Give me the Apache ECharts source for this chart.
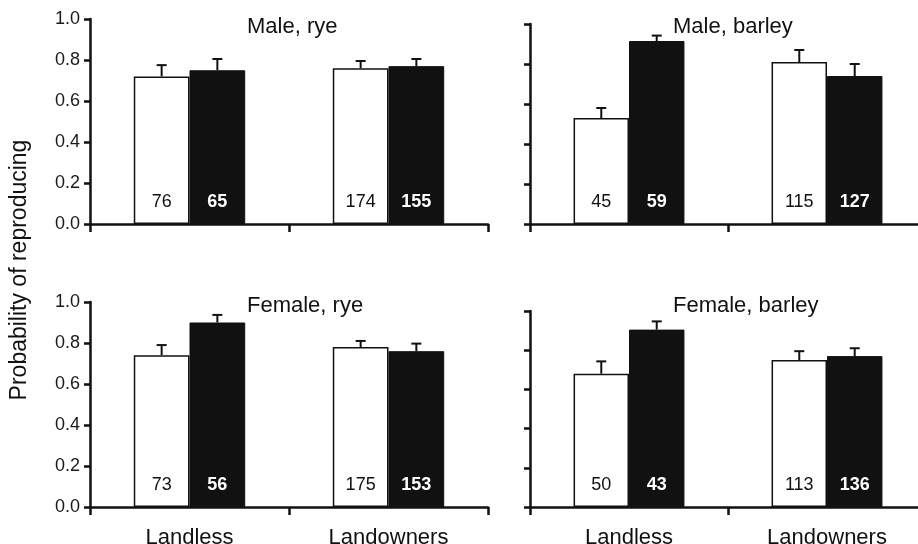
<!DOCTYPE html>
<html><head><meta charset="utf-8">
<script src="https://cdn.jsdelivr.net/npm/echarts@6/dist/echarts.min.js"></script>
<style>html,body{margin:0;padding:0;background:#fff}#c{width:918px;height:544px}</style>
</head><body><div id="c"></div>
<script>
const categories = ['Landless', 'Landowners'];
const panelTitles = ['Male, rye', 'Male, barley', 'Female, rye', 'Female, barley'];
const yTicks = ['0.0', '0.2', '0.4', '0.6', '0.8', '1.0'];
const yAxisTitle = 'Probability of reproducing';

// open bars (white) and filled bars (black): means, upper standard errors, sample sizes
const maleRyeOpen = [0.72, 0.76];
const maleRyeOpenSE = [0.055, 0.035];
const maleRyeOpenN = [76, 174];
const maleRyeFilled = [0.75, 0.77];
const maleRyeFilledSE = [0.055, 0.035];
const maleRyeFilledN = [65, 155];

const maleBarleyOpen = [0.53, 0.81];
const maleBarleyOpenSE = [0.05, 0.06];
const maleBarleyOpenN = [45, 115];
const maleBarleyFilled = [0.915, 0.74];
const maleBarleyFilledSE = [0.027, 0.06];
const maleBarleyFilledN = [59, 127];

const femaleRyeOpen = [0.74, 0.78];
const femaleRyeOpenSE = [0.05, 0.03];
const femaleRyeOpenN = [73, 175];
const femaleRyeFilled = [0.90, 0.76];
const femaleRyeFilledSE = [0.037, 0.037];
const femaleRyeFilledN = [56, 153];

const femaleBarleyOpen = [0.68, 0.75];
const femaleBarleyOpenSE = [0.063, 0.045];
const femaleBarleyOpenN = [50, 113];
const femaleBarleyFilled = [0.905, 0.77];
const femaleBarleyFilledSE = [0.042, 0.04];
const femaleBarleyFilledN = [43, 136];

const panels = [
  {open: maleRyeOpen, openSE: maleRyeOpenSE, openN: maleRyeOpenN, filled: maleRyeFilled, filledSE: maleRyeFilledSE, filledN: maleRyeFilledN},
  {open: maleBarleyOpen, openSE: maleBarleyOpenSE, openN: maleBarleyOpenN, filled: maleBarleyFilled, filledSE: maleBarleyFilledSE, filledN: maleBarleyFilledN},
  {open: femaleRyeOpen, openSE: femaleRyeOpenSE, openN: femaleRyeOpenN, filled: femaleRyeFilled, filledSE: femaleRyeFilledSE, filledN: femaleRyeFilledN},
  {open: femaleBarleyOpen, openSE: femaleBarleyOpenSE, openN: femaleBarleyOpenN, filled: femaleBarleyFilled, filledSE: femaleBarleyFilledSE, filledN: femaleBarleyFilledN}
];

const FONT = '"Liberation Sans", Arial, Helvetica, sans-serif';
const grids = [
  {left: 90, top: 19, width: 398, height: 205},
  {left: 530, top: 24, width: 396, height: 200},
  {left: 90, top: 302, width: 398, height: 205},
  {left: 530, top: 311, width: 396, height: 196}
].map(g => Object.assign(g, {containLabel: false, outerBoundsMode: 'none'}));
const titlePos = [
  {left: 242, top: 11}, {left: 668, top: 11}, {left: 242, top: 290}, {left: 668, top: 290}
];
const BAR_FRAC = 0.28;

function errRender(sign) {
  return function (params, api) {
    const idx = api.value(0);
    const p0 = api.coord([idx, api.value(1)]);
    const p1 = api.coord([idx, api.value(2)]);
    const band = api.size([1, 0])[0];
    const x = p0[0] + sign * band * BAR_FRAC / 2;
    return {
      type: 'group',
      children: [
        {type: 'line', shape: {x1: x, y1: p0[1], x2: x, y2: p1[1]}, style: {stroke: '#111', lineWidth: 2}},
        {type: 'line', shape: {x1: x - 5, y1: p1[1], x2: x + 5, y2: p1[1]}, style: {stroke: '#111', lineWidth: 2}}
      ]
    };
  };
}

const xAxes = [], yAxes = [], series = [], titles = [];
panels.forEach((p, i) => {
  const bottom = i >= 2;
  const left = i % 2 === 0;
  titles.push({text: panelTitles[i], left: titlePos[i].left, top: titlePos[i].top,
    textStyle: {fontFamily: FONT, fontSize: 22, fontWeight: 'normal', color: '#111'}});
  xAxes.push({
    type: 'category', gridIndex: i, data: categories, boundaryGap: true,
    axisLine: {lineStyle: {color: '#111', width: 2.5}},
    axisTick: {show: true, length: 8, lineStyle: {color: '#111', width: 2.5}},
    axisLabel: {show: bottom, margin: 20, fontFamily: FONT, fontSize: 22, color: '#111'}
  });
  yAxes.push({
    type: 'value', gridIndex: i, min: 0, max: 1, interval: 0.2,
    splitLine: {show: false},
    axisLine: {show: true, lineStyle: {color: '#111', width: 2.5}},
    axisTick: {show: true, length: 6, lineStyle: {color: '#111', width: 2.5}},
    axisLabel: {show: left, margin: 10, fontFamily: FONT, fontSize: 18, color: '#1a1a1a',
      formatter: (v) => yTicks[Math.round(v * 5)]}
  });
  series.push({
    type: 'bar', xAxisIndex: i, yAxisIndex: i, data: p.open, barWidth: (BAR_FRAC * 100) + '%', barGap: '0%',
    itemStyle: {color: '#fff', borderColor: '#111', borderWidth: 1.5},
    label: {show: true, position: 'insideBottom', distance: 13, fontFamily: FONT, fontSize: 18, color: '#111',
      formatter: (d) => String(p.openN[d.dataIndex])},
    silent: true, animation: false
  });
  series.push({
    type: 'bar', xAxisIndex: i, yAxisIndex: i, data: p.filled, barWidth: (BAR_FRAC * 100) + '%', barGap: '0%',
    itemStyle: {color: '#111', borderColor: '#111', borderWidth: 1},
    label: {show: true, position: 'insideBottom', distance: 13, fontFamily: FONT, fontSize: 18, fontWeight: 'bold', color: '#fff',
      formatter: (d) => String(p.filledN[d.dataIndex])},
    silent: true, animation: false
  });
  series.push({
    type: 'custom', xAxisIndex: i, yAxisIndex: i, renderItem: errRender(-1), z: 3,
    data: p.open.map((v, k) => [k, v, v + p.openSE[k]]), encode: {x: 0, y: [1, 2]}, animation: false
  });
  series.push({
    type: 'custom', xAxisIndex: i, yAxisIndex: i, renderItem: errRender(1), z: 3,
    data: p.filled.map((v, k) => [k, v, v + p.filledSE[k]]), encode: {x: 0, y: [1, 2]}, animation: false
  });
});

const chart = echarts.init(document.getElementById('c'), null, {renderer: 'canvas'});
chart.setOption({
  backgroundColor: '#fff',
  animation: false,
  title: titles,
  grid: grids,
  xAxis: xAxes,
  yAxis: yAxes,
  series: series,
  graphic: [{
    type: 'text', x: 20, y: 270, rotation: Math.PI / 2,
    style: {text: yAxisTitle, fontFamily: FONT, fontSize: 23, fill: '#111', textAlign: 'center', textVerticalAlign: 'middle'}
  }]
});
</script>
</body></html>
